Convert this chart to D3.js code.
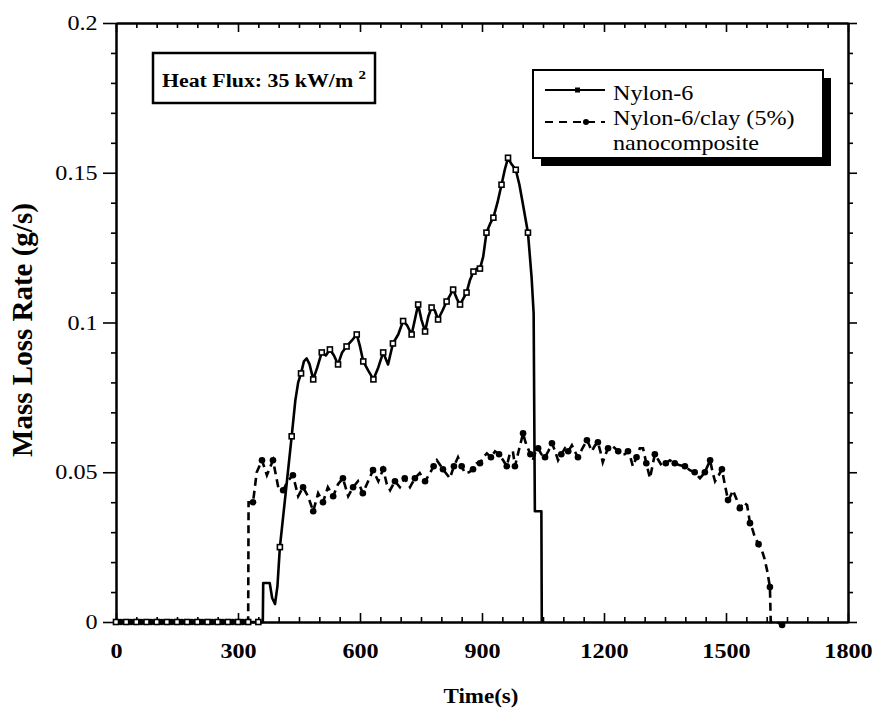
<!DOCTYPE html>
<html>
<head>
<meta charset="utf-8">
<script src="https://cdn.jsdelivr.net/npm/d3@7"></script>
<style>
body { margin: 0; background: #fff; }
svg { display: block; }
</style>
</head>
<body>
<div id="chart"></div>
<script>
// Nylon-6 mass loss rate, time (s) / value (g/s)
const nylonT = [0,25,50,75,100,125,150,175,200,225,
    250,275,300,325,350,361,362,378,384,391,397,403,
    418,432,441,448,455,462,469,476,485,495,
    506,516,526,536,546,556,567,580,592,600,
    608,620,633,645,657,669,681,694,706,716,
    727,735,743,751,760,768,776,784,792,803,
    813,821,829,838,846,854,862,870,879,887,
    895,903,911,920,928,938,948,956,964,972,
    983,992,1000,1013,1022,1027,1030,1046,1047];
const nylonV = [0,0,0,0,0,0,0,0,0,0,
    0,0,0,0,0,0,0.013,0.013,0.008,0.006,0.012,0.025,
    0.044,0.062,0.074,0.080,0.083,0.087,0.088,0.086,0.081,0.085,
    0.090,0.089,0.091,0.089,0.086,0.090,0.092,0.094,0.096,0.092,
    0.087,0.084,0.081,0.085,0.090,0.086,0.093,0.096,0.1005,0.099,
    0.096,0.101,0.106,0.101,0.097,0.102,0.105,0.104,0.101,0.104,
    0.107,0.109,0.111,0.108,0.106,0.108,0.110,0.114,0.117,0.118,
    0.118,0.122,0.130,0.133,0.135,0.140,0.146,0.151,0.155,0.153,
    0.151,0.146,0.140,0.130,0.115,0.103,0.037,0.037,0];
const nylonMarks = [0,25,50,75,100,125,150,175,200,225,250,275,300,325,350,
    403,432,455,485,506,526,546,567,592,608,633,657,681,706,727,743,760,
    776,792,813,829,846,862,879,895,911,928,948,964,983,1013];

// Nylon-6/clay (5%) nanocomposite
const nanoT = [0,25,50,75,100,125,150,175,200,225,
    250,275,300,325,326,337,346,359,371,386,
    399,411,422,435,448,460,472,485,497,509,
    521,534,546,558,571,583,595,607,620,632,
    645,657,666,674,686,698,710,723,735,747,
    760,772,781,789,804,821,831,841,850,858,
    868,878,887,895,903,912,922,932,942,952,
    961,968,976,981,990,1001,1007,1013,1019,1025,
    1032,1038,1046,1055,1063,1072,1080,1087,1095,1104,
    1112,1121,1128,1136,1147,1158,1164,1170,1178,1185,
    1191,1197,1204,1210,1218,1227,1235,1244,1251,1259,
    1265,1271,1280,1288,1296,1304,1313,1319,1325,1334,
    1343,1352,1362,1374,1387,1399,1411,1423,1436,1448,
    1461,1467,1473,1482,1490,1497,1505,1511,1517,1526,
    1534,1543,1552,1559,1565,1571,1580,1588,1595,1601,
    1608,1610,1625,1638,1650];
const nanoV = [0,0,0,0,0,0,0,0,0,0,
    0,0,0,0,0.040,0.040,0.050,0.054,0.049,0.054,
    0.045,0.044,0.047,0.049,0.042,0.045,0.042,0.037,0.043,0.040,
    0.045,0.042,0.046,0.048,0.042,0.045,0.047,0.043,0.047,0.0507,
    0.047,0.051,0.046,0.044,0.047,0.045,0.048,0.045,0.048,0.0497,
    0.047,0.0497,0.052,0.054,0.051,0.048,0.052,0.055,0.052,0.0497,
    0.050,0.051,0.053,0.053,0.055,0.0563,0.055,0.057,0.056,0.054,
    0.052,0.056,0.057,0.052,0.057,0.063,0.060,0.058,0.056,0.054,
    0.057,0.058,0.056,0.055,0.057,0.0597,0.057,0.054,0.056,0.058,
    0.057,0.059,0.057,0.055,0.058,0.0607,0.059,0.057,0.059,0.060,
    0.057,0.0533,0.056,0.058,0.059,0.058,0.057,0.056,0.056,0.057,
    0.055,0.052,0.055,0.058,0.058,0.053,0.048,0.052,0.056,0.054,
    0.052,0.053,0.054,0.053,0.0523,0.052,0.0507,0.050,0.048,0.050,
    0.054,0.050,0.047,0.049,0.051,0.046,0.0407,0.042,0.044,0.041,
    0.038,0.040,0.039,0.033,0.031,0.0283,0.026,0.024,0.021,0.0173,
    0.0117,0,0,-0.001,0];
const nanoMarks = [12,37,62,87,112,137,162,187,212,237,262,287,312,
    337,359,386,411,435,460,485,509,534,558,583,607,632,657,686,710,735,
    760,781,804,831,850,878,895,922,942,961,981,1001,1019,1038,1055,1072,
    1095,1112,1136,1158,1185,1210,1235,1259,1280,1304,1325,1352,1374,1399,
    1423,1448,1461,1490,1505,1534,1559,1580,1608,1638];

const xTicks = [0, 300, 600, 900, 1200, 1500, 1800];
const yTicks = [0, 0.05, 0.1, 0.15, 0.2];
const yTickLabels = ["0", "0.05", "0.1", "0.15", "0.2"];
const legendNames = ["Nylon-6", "Nylon-6/clay (5%)", "nanocomposite"];

const width = 872;
const height = 710;
const margin = { top: 23, right: 24, bottom: 88, left: 116 };
const SX = 1.15; // the scan is a bit wider than tall
const serif = "'Liberation Serif', 'Times New Roman', serif";

const svg = d3.select("#chart").append("svg")
    .attr("width", width)
    .attr("height", height)
    .style("font-family", serif);

const x = d3.scaleLinear().domain([0, 1800]).range([margin.left, width - margin.right]);
const y = d3.scaleLinear().domain([0, 0.2]).range([height - margin.bottom, margin.top]);

// baseline zeros at t=12,37,... for the nanocomposite markers
const nanoVal = t => {
    const i = nanoT.indexOf(t);
    return i >= 0 ? nanoV[i] : 0;
};

function stext(g, px, py, str) {
    return g.append("text")
        .attr("transform", `translate(${px},${py}) scale(${SX},1)`)
        .text(str);
}

// axes
const minorX = d3.range(0, 1801, 50).filter(d => d % 300 !== 0);
const minorY = d3.range(0, 0.2001, 0.01).filter((d, i) => i % 5 !== 0);

function styleAxis(g) {
    g.select(".domain").attr("stroke", "#000").attr("stroke-width", 2);
    g.selectAll(".tick line").attr("stroke", "#000").attr("stroke-width", 1.6);
}

const x0 = y(0), y0 = y(0.2);

svg.append("g").attr("transform", `translate(0,${x0})`)
    .call(d3.axisBottom(x).tickValues(minorX).tickSizeInner(-5).tickSizeOuter(0).tickFormat(""))
    .call(styleAxis);
const xAxis = svg.append("g").attr("transform", `translate(0,${x0})`)
    .call(d3.axisBottom(x).tickValues(xTicks).tickSizeInner(-9).tickSizeOuter(0).tickPadding(21).tickFormat(d => d))
    .call(styleAxis);
xAxis.selectAll("text")
    .attr("transform", `scale(${SX},1)`)
    .attr("fill", "#000")
    .style("font-family", serif)
    .style("font-size", "21px")
    .style("font-weight", "bold");

svg.append("g").attr("transform", `translate(0,${y0})`)
    .call(d3.axisTop(x).tickValues(minorX).tickSizeInner(-5).tickSizeOuter(0).tickFormat(""))
    .call(styleAxis);
svg.append("g").attr("transform", `translate(0,${y0})`)
    .call(d3.axisTop(x).tickValues(xTicks).tickSizeInner(-9).tickSizeOuter(0).tickFormat(""))
    .call(styleAxis);

svg.append("g").attr("transform", `translate(${x(0)},0)`)
    .call(d3.axisLeft(y).tickValues(minorY).tickSizeInner(5).tickSizeOuter(0).tickFormat(""))
    .call(styleAxis);
const yAxis = svg.append("g").attr("transform", `translate(${x(0)},0)`)
    .call(d3.axisLeft(y).tickValues(yTicks).tickSizeInner(13).tickSizeOuter(0).tickPadding(3)
        .tickFormat((d, i) => yTickLabels[i]))
    .call(styleAxis);
yAxis.selectAll("text")
    .attr("transform", `scale(${SX},1)`)
    .attr("fill", "#000")
    .style("font-family", serif)
    .style("font-size", "21px");

svg.append("g").attr("transform", `translate(${x(1800)},0)`)
    .call(d3.axisRight(y).tickValues(minorY).tickSizeInner(5).tickSizeOuter(0).tickFormat(""))
    .call(styleAxis);
svg.append("g").attr("transform", `translate(${x(1800)},0)`)
    .call(d3.axisRight(y).tickValues(yTicks).tickSizeInner(9).tickSizeOuter(0).tickFormat(""))
    .call(styleAxis);

// axis titles
stext(svg, 481, 703, "Time(s)")
    .attr("text-anchor", "middle")
    .style("font-size", "20px")
    .style("font-weight", "bold");

svg.append("text")
    .attr("transform", "translate(32,330) rotate(-90)")
    .attr("text-anchor", "middle")
    .style("font-size", "29px")
    .style("font-weight", "bold")
    .text("Mass Loss Rate (g/s)");

// series
const nylon = nylonT.map((t, i) => ({ t: t, v: nylonV[i] }));
const nano = nanoT.map((t, i) => ({ t: t, v: nanoV[i] }));
const line = d3.line().x(d => x(d.t)).y(d => y(d.v));

svg.append("path")
    .datum(nano)
    .attr("fill", "none")
    .attr("stroke", "#000")
    .attr("stroke-width", 2.6)
    .attr("stroke-dasharray", "8,5")
    .attr("d", line);

svg.append("path")
    .datum(nylon)
    .attr("fill", "none")
    .attr("stroke", "#000")
    .attr("stroke-width", 2.6)
    .attr("stroke-linejoin", "round")
    .attr("d", line);

svg.selectAll(".nano-mark")
    .data(nanoMarks)
    .enter()
    .append("circle")
    .attr("class", "nano-mark")
    .attr("cx", d => x(d))
    .attr("cy", d => y(nanoVal(d)))
    .attr("r", 3.3)
    .attr("fill", "#000");

svg.selectAll(".nylon-mark")
    .data(nylon.filter(d => nylonMarks.includes(d.t)))
    .enter()
    .append("rect")
    .attr("class", "nylon-mark")
    .attr("x", d => x(d.t) - 2.5)
    .attr("y", d => y(d.v) - 2.5)
    .attr("width", 5)
    .attr("height", 5)
    .attr("fill", "#fff")
    .attr("stroke", "#000")
    .attr("stroke-width", 1.6);

// heat flux box
svg.append("rect")
    .attr("x", 153).attr("y", 53)
    .attr("width", 222).attr("height", 50)
    .attr("fill", "#fff")
    .attr("stroke", "#000")
    .attr("stroke-width", 2.5);
const hf = stext(svg, 162, 87, "Heat Flux: 35 kW/m ")
    .style("font-size", "19px")
    .style("font-weight", "bold");
hf.append("tspan")
    .attr("dy", -8)
    .style("font-size", "13px")
    .text("2");

// legend
const lg = svg.append("g");
lg.append("rect")
    .attr("x", 541).attr("y", 78)
    .attr("width", 290).attr("height", 88)
    .attr("fill", "#000");
lg.append("rect")
    .attr("x", 533).attr("y", 70)
    .attr("width", 290).attr("height", 88)
    .attr("fill", "#fff")
    .attr("stroke", "#000")
    .attr("stroke-width", 2);

lg.append("line")
    .attr("x1", 545).attr("x2", 605)
    .attr("y1", 90).attr("y2", 90)
    .attr("stroke", "#000").attr("stroke-width", 2.2);
lg.append("rect")
    .attr("x", 575).attr("y", 87.5)
    .attr("width", 5).attr("height", 5)
    .attr("fill", "#000");
lg.append("line")
    .attr("x1", 545).attr("x2", 605)
    .attr("y1", 122).attr("y2", 122)
    .attr("stroke", "#000").attr("stroke-width", 2.2)
    .attr("stroke-dasharray", "8,6");
lg.append("circle")
    .attr("cx", 586).attr("cy", 122).attr("r", 3)
    .attr("fill", "#000");

legendNames.forEach((name, i) => {
    stext(lg, 613, 100 + i * 25, name)
        .style("font-size", "21px");
});
</script>
</body>
</html>
